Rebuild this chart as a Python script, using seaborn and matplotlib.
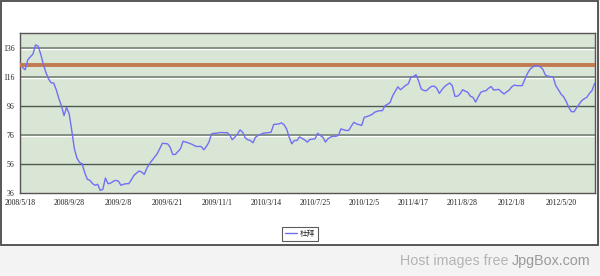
import numpy as np
import pandas as pd
import matplotlib
matplotlib.use("Agg")
import matplotlib.pyplot as plt
from matplotlib.patches import Rectangle
import seaborn as sns

# ---------------- data ----------------
series_name = "杜拜"
first_week = "2008-05-25"          # weekly observations
values = [
    122.3, 120.7, 127.5, 129.6, 131.5, 137.8, 137.0, 131.5, 124.6, 118.9,
    114.5, 111.8, 111.6, 107.0, 101.0, 96.0, 89.2, 94.9, 90.4, 78.9,
    66.4, 60.0, 57.0, 56.1, 50.0, 45.5, 44.7, 42.5, 41.3, 42.0,
    37.8, 38.5, 46.3, 42.4, 42.8, 44.0, 44.7, 44.2, 41.3, 42.0,
    42.4, 42.4, 45.0, 48.1, 49.7, 51.1, 50.4, 48.8, 53.0, 56.1,
    58.4, 60.7, 63.0, 66.5, 70.2, 70.0, 69.8, 67.5, 62.5, 62.5,
    64.5, 66.4, 71.6, 71.0, 70.5, 69.8, 69.0, 68.0, 68.0, 68.0,
    65.7, 68.0, 71.0, 76.7, 77.0, 77.1, 77.5, 77.6, 77.4, 77.5,
    76.0, 72.6, 74.4, 76.5, 79.4, 77.8, 74.0, 72.6, 72.1, 70.5,
    74.4, 75.5, 76.3, 77.1, 77.3, 77.5, 77.8, 83.1, 83.3, 83.5,
    84.2, 83.0, 80.0, 74.4, 69.8, 72.1, 72.1, 74.6, 73.5, 72.5,
    71.0, 72.8, 73.0, 73.3, 77.1, 75.5, 74.4, 71.0, 73.3, 74.5,
    75.0, 75.0, 75.5, 80.1, 79.5, 79.0, 79.0, 82.0, 84.6, 83.5,
    83.0, 82.4, 88.1, 88.5, 89.2, 90.0, 91.5, 92.2, 92.6, 92.6,
    96.0, 97.0, 98.3, 103.0, 106.0, 109.0, 107.0, 108.5, 110.0, 111.0,
    115.5, 116.1, 117.3, 113.0, 107.5, 106.5, 106.3, 108.0, 109.3, 109.5,
    108.0, 104.5, 107.0, 109.1, 110.5, 111.6, 109.8, 102.5, 102.5, 104.1,
    107.0, 106.0, 105.2, 102.5, 101.8, 98.5, 102.0, 105.2, 106.0, 106.3,
    108.0, 109.2, 106.8, 107.0, 107.2, 105.5, 104.1, 105.5, 106.8, 109.0,
    110.2, 109.8, 109.8, 109.8, 114.0, 118.0, 121.0, 122.5, 123.5, 123.4,
    122.8, 121.0, 117.0, 116.3, 116.0, 115.5, 109.8, 107.0, 104.0, 102.2,
    99.0, 95.0, 92.0, 91.8, 94.5, 97.0, 99.5, 100.8, 101.8, 104.5,
    106.5, 111.3,
]
ref_level = 124
y_ticks = [36, 56, 76, 96, 116, 136]
x_tick_labels = ["2008/5/18", "2008/9/28", "2009/2/8", "2009/6/21", "2009/11/1",
                 "2010/3/14", "2010/7/25", "2010/12/5", "2011/4/17", "2011/8/28",
                 "2012/1/8", "2012/5/20"]
watermark_a = "Host images free"
watermark_b = "JpgBox.com"

dates = pd.date_range(first_week, periods=len(values), freq="7D")
df = pd.DataFrame({"date": dates, "value": values, "series": series_name})

# ---------------- figure ----------------
sns.set_style("white")
plt.rcParams["font.family"] = ["Liberation Serif", "Noto Sans CJK TC", "DejaVu Sans"]

W, H = 600, 276
fig = plt.figure(figsize=(W / 100, H / 100), dpi=100)
fig.patch.set_facecolor("#f3f3f3")

# white chart frame (background axes)
bg = fig.add_axes([0, 0, 1, 1], zorder=-5)
bg.set_xlim(0, W)
bg.set_ylim(H, 0)
bg.axis("off")
bg.add_patch(Rectangle((0.8, 0.8), 597.5, 244, facecolor="white",
                       edgecolor="#4a4a4a", linewidth=1.3))

ax = fig.add_axes([20 / W, 1 - 193 / H, 575 / W, 160 / H], zorder=1)
ax.set_facecolor("#d9e5d5")

sns.lineplot(data=df, x="date", y="value", hue="series", palette=["#7070f4"],
             linewidth=1.0, ax=ax, zorder=5)

# horizontal grid lines
for yv in y_ticks[1:]:
    if yv in (96, 56):
        ax.axhline(yv, color="#4e5a4e", linewidth=1.0, zorder=2)
    else:
        ax.axhline(yv - 0.8, color="white", linewidth=1.0, zorder=2)
        ax.axhline(yv, color="#7f8a7f", linewidth=1.3, zorder=2)

ax.axhline(ref_level, color="#c27a50", linewidth=2.8, zorder=4)

start = pd.to_datetime(x_tick_labels[0], format="%Y/%m/%d")
tick_dates = [pd.to_datetime(t, format="%Y/%m/%d") for t in x_tick_labels]
ax.set_xlim(start, start + pd.Timedelta(days=1555))
ax.set_ylim(36, 146)
ax.set_xticks(tick_dates)
ax.set_xticklabels(x_tick_labels)
ax.set_yticks(y_ticks)
ax.set_yticklabels([str(v) for v in y_ticks])
ax.tick_params(axis="both", labelsize=5.6, colors="#222222", length=3, width=0.8,
               direction="out", pad=1)
ax.tick_params(axis="x", pad=1.5)
ax.set_xlabel("")
ax.set_ylabel("")
for s in ax.spines.values():
    s.set_color("#555555")
    s.set_linewidth(1.0)

leg = ax.legend(loc="center", bbox_to_anchor=(300 / W, 1 - 234 / H),
                bbox_transform=fig.transFigure, fontsize=5.5, frameon=True,
                fancybox=False, edgecolor="#333333", handlelength=1.6,
                handletextpad=0.3, borderpad=0.35, borderaxespad=0)
leg.get_frame().set_linewidth(0.8)
for t in leg.get_texts():
    t.set_family(["Noto Sans CJK TC", "DejaVu Sans"])

fig.text(508 / W, 1 - 261 / H, watermark_a, ha="right", va="center",
         fontsize=10.3, color="#b4b4b4", family="Liberation Sans")
fig.text(512 / W, 1 - 261 / H, watermark_b, ha="left", va="center",
         fontsize=10.3, color="#9a9a9a", family="Liberation Sans")

fig.savefig("out.png", dpi=100, facecolor=fig.get_facecolor())
